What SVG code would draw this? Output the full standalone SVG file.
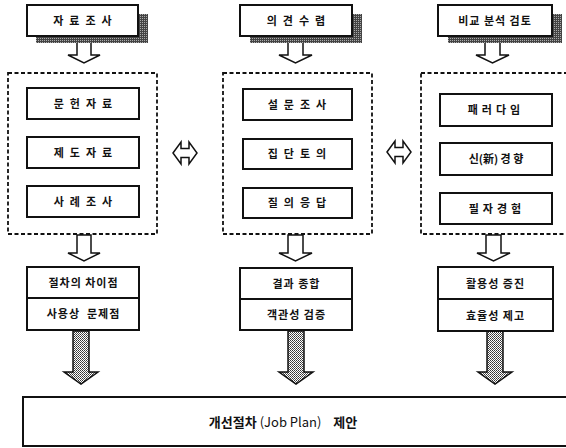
<svg xmlns="http://www.w3.org/2000/svg" width="566" height="448" viewBox="0 0 566 448">
<defs>
<pattern id="dk" width="2" height="2" patternUnits="userSpaceOnUse"><rect width="2" height="2" fill="#444"/><rect x="0" y="0" width="1" height="1" fill="#aaa"/></pattern>
<pattern id="lt" width="2" height="2" patternUnits="userSpaceOnUse"><rect width="2" height="2" fill="#fff"/><rect x="0" y="0" width="1" height="1" fill="#333"/><rect x="1" y="1" width="1" height="1" fill="#555"/></pattern>
<style>
.box{fill:#fff;stroke:#111;stroke-width:2}
.dash{fill:none;stroke:#111;stroke-width:1.8;stroke-dasharray:4 2.5}
.sh{fill:url(#dk)}
.ha{fill:#fff;stroke:#111;stroke-width:1.5;stroke-linejoin:miter}
.hat{fill:url(#lt);stroke:#111;stroke-width:1.5}
.t{font-family:"Noto Sans CJK KR","Noto Sans",sans-serif;font-weight:bold;font-size:11px;fill:#111;text-anchor:middle}
.sp{letter-spacing:6px}
.r{letter-spacing:1px}
</style>
</defs>
<rect width="566" height="448" fill="#fff"/>

<g id="connectors">
  <path class="ha" d="M77,40 L91,40 L91,55 L100,55 L84,63 L68,55 L77,55 Z"/>
  <path class="ha" d="M288,40 L303,40 L303,55 L312,55 L295.5,63 L279,55 L288,55 Z"/>
  <path class="ha" d="M485,40 L500,40 L500,55 L509,55 L492.5,63 L476,55 L485,55 Z"/>
  <path class="ha" d="M77,235 L91,235 L91,253 L100,253 L84,261 L68,253 L77,253 Z"/>
  <path class="ha" d="M288,235 L303,235 L303,253 L312,253 L295.5,261 L279,253 L288,253 Z"/>
  <path class="ha" d="M486,235 L501,235 L501,253 L510,253 L493.5,261 L477,253 L486,253 Z"/>
  <path class="ha" d="M173,153 L181,142 L181,148.5 L189,148.5 L189,142 L197,153 L189,164 L189,157.5 L181,157.5 L181,164 Z"/>
  <path class="ha" d="M387,152 L395,141 L395,147.5 L403,147.5 L403,141 L411,152 L403,163 L403,156.5 L395,156.5 L395,163 Z"/>
  <path class="hat" d="M73,331 L89,331 L89,372 L98,372 L81,384 L64,372 L73,372 Z"/>
  <path class="hat" d="M288,331 L304,331 L304,372 L313,372 L296,384 L279,372 L288,372 Z"/>
  <path class="hat" d="M487,331 L503,331 L503,372 L512,372 L495,384 L478,372 L487,372 Z"/>
</g>

<g id="n-jaryo">
  <rect class="sh" x="36" y="14" width="112" height="29"/>
  <rect class="box" x="27" y="5" width="111" height="31"/>
  <text class="t sp" x="85.5" y="25">자료조사</text>
</g>
<g id="n-uigyeon">
  <rect class="sh" x="250" y="14" width="112" height="29"/>
  <rect class="box" x="240" y="5" width="112" height="31"/>
  <text class="t sp" x="299" y="25">의견수렴</text>
</g>
<g id="n-bigyo">
  <rect class="sh" x="448" y="14" width="114" height="29"/>
  <rect class="box" x="438" y="5" width="114" height="31"/>
  <text class="t" x="495" y="25" style="letter-spacing:1px">비교 분석 검토</text>
</g>

<g id="g-left">
  <rect class="dash" x="8" y="73" width="149" height="161"/>
  <g id="n-munheon"><rect class="box" x="27" y="88" width="112" height="31"/><text class="t sp" x="86" y="108">문헌자료</text></g>
  <g id="n-jedo"><rect class="box" x="27" y="137" width="112" height="31"/><text class="t sp" x="86" y="157">제도자료</text></g>
  <g id="n-sarye"><rect class="box" x="27" y="186" width="112" height="31"/><text class="t sp" x="86" y="206">사례조사</text></g>
</g>
<g id="g-mid">
  <rect class="dash" x="223" y="73" width="149" height="161"/>
  <g id="n-seolmun"><rect class="box" x="243" y="89" width="109" height="31"/><text class="t sp" x="300" y="109">설문조사</text></g>
  <g id="n-jipdan"><rect class="box" x="243" y="139" width="109" height="30"/><text class="t sp" x="300" y="158">집단토의</text></g>
  <g id="n-jilui"><rect class="box" x="243" y="188" width="109" height="30"/><text class="t sp" x="300" y="207">질의응답</text></g>
</g>
<g id="g-right">
  <rect class="dash" x="421" y="73" width="150" height="161"/>
  <g id="n-paradigm"><rect class="box" x="440" y="94" width="112" height="32"/><text class="t" x="496" y="114" style="letter-spacing:4px">패러다임</text></g>
  <g id="n-sin"><rect class="box" x="440" y="143" width="112" height="32"/><text class="t" x="496" y="163">신(新) 경 향</text></g>
  <g id="n-pilja"><rect class="box" x="440" y="193" width="112" height="31"/><text class="t" x="497" y="213" style="letter-spacing:4px">필자경험</text></g>
</g>

<g id="n-left-result">
  <rect class="box" x="27" y="267" width="112" height="63"/>
  <line x1="27" y1="298" x2="139" y2="298" stroke="#111" stroke-width="2"/>
  <text class="t r" x="83.5" y="287">절차의 차이점</text>
  <text class="t r" x="83.5" y="318" xml:space="preserve">사용상  문제점</text>
</g>
<g id="n-mid-result">
  <rect class="box" x="240" y="268" width="112" height="62"/>
  <line x1="240" y1="299" x2="352" y2="299" stroke="#111" stroke-width="2"/>
  <text class="t r" x="296.5" y="288">결과 종합</text>
  <text class="t r" x="296.5" y="319">객관성 검증</text>
</g>
<g id="n-right-result">
  <rect class="box" x="438" y="267" width="115" height="64"/>
  <line x1="438" y1="299" x2="553" y2="299" stroke="#111" stroke-width="2"/>
  <text class="t r" x="495.5" y="288">활용성 증진</text>
  <text class="t r" x="495.5" y="320">효율성 제고</text>
</g>

<g id="n-final">
  <rect class="box" x="23" y="397" width="560" height="49"/>
  <text class="t" x="283" y="427" style="font-size:13px" xml:space="preserve">개선절차 <tspan style="font-weight:normal">(Job Plan)</tspan>    제안</text>
</g>
</svg>
